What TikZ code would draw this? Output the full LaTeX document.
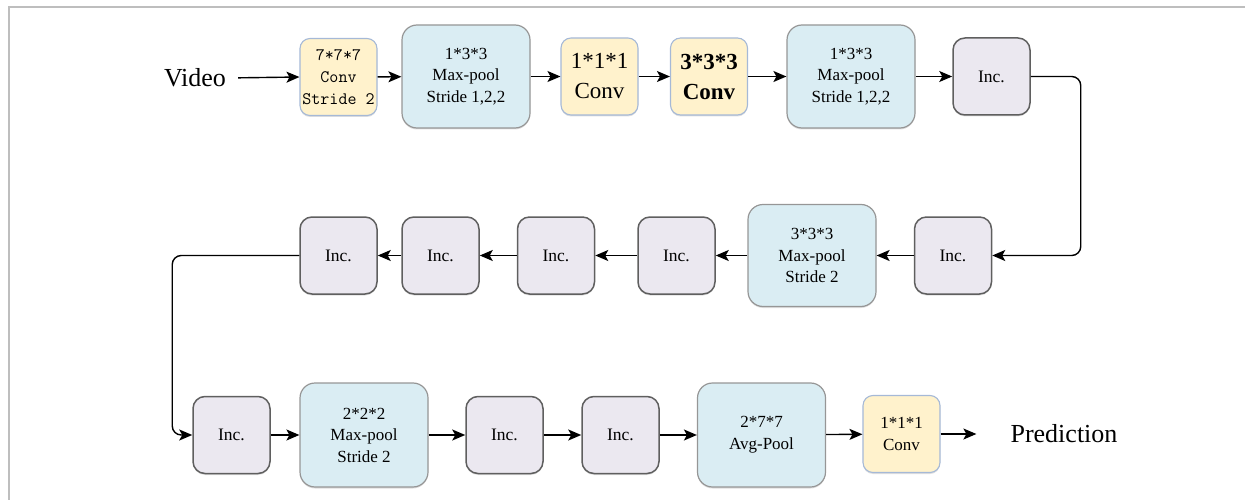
\documentclass[tikz,border=0pt]{standalone}
\usepackage{fontspec}
\setmainfont{Liberation Serif}
\usetikzlibrary{arrows.meta,shadows}

\definecolor{convfill}{RGB}{255,242,204}
\definecolor{convedge}{RGB}{165,185,215}
\definecolor{poolfill}{RGB}{218,237,243}
\definecolor{pooledge}{RGB}{150,150,150}
\definecolor{incfill}{RGB}{235,232,240}
\definecolor{incedge}{RGB}{95,95,95}
\definecolor{frameedge}{RGB}{190,190,190}

\tikzset{
  blk/.style={rectangle, inner sep=0pt, align=center, text=black,
    drop shadow={shadow xshift=0pt, shadow yshift=-1.5pt, opacity=0.25}},
  convbox/.style={blk, fill=convfill, draw=convedge, line width=1.1pt,
    rounded corners=10pt, minimum width=77pt, minimum height=77pt},
  poolbox/.style={blk, fill=poolfill, draw=pooledge, line width=1.2pt,
    rounded corners=15pt, minimum width=128pt, minimum height=103pt,
    font=\fontsize{17}{21.5}\selectfont},
  incbox/.style={blk, fill=incfill, draw=incedge, line width=1.5pt,
    rounded corners=12pt, minimum width=77pt, minimum height=77pt,
    font=\fontsize{17.5}{21}\selectfont},
  label/.style={inner sep=0pt, font=\fontsize{26}{30}\selectfont},
  flow/.style={line width=1.4pt, -{Stealth[length=13pt,width=11pt,inset=3pt]}},
}

\begin{document}
\begin{tikzpicture}[x=1pt,y=-1pt]
\useasboundingbox (0,0) rectangle (1245,500);
\draw[frameedge, line width=1.5pt] (9,500) -- (9,7) -- (1245,7);

% first row: stem of the network
\node[label] (video) at (195,78) {Video};
\node[convbox, font=\ttfamily\fontsize{17.5}{22}\selectfont] (c7) at (338.5,77) {7*7*7\\Conv\\Stride 2};
\node[poolbox] (p1) at (466,76.5) {1*3*3\\Max-pool\\Stride 1,2,2};
\node[convbox, font=\fontsize{23}{30}\selectfont] (c1) at (599.5,76.5) {1*1*1\\Conv};
\node[convbox, font=\bfseries\fontsize{23}{30}\selectfont] (c3) at (709,76.5) {3*3*3\\Conv};
\node[poolbox] (p2) at (851,76.5) {1*3*3\\Max-pool\\Stride 1,2,2};
\node[incbox] (i1) at (991.5,76.5) {Inc.};

% second row, running right to left
\node[incbox] (i2) at (953,255.5) {Inc.};
\node[poolbox, minimum height=102pt] (p3) at (812,255.5) {3*3*3\\Max-pool\\Stride 2};
\node[incbox] (i3) at (676.5,255.5) {Inc.};
\node[incbox] (i4) at (556,255.5) {Inc.};
\node[incbox] (i5) at (440.5,255.5) {Inc.};
\node[incbox] (i6) at (338.5,255.5) {Inc.};

% third row: head of the network
\node[incbox] (i7) at (231.5,435) {Inc.};
\node[poolbox, minimum height=104pt] (p4) at (364,435) {2*2*2\\Max-pool\\Stride 2};
\node[incbox] (i8) at (504.5,435) {Inc.};
\node[incbox] (i9) at (620.5,435) {Inc.};
\node[poolbox, minimum height=104pt, font=\fontsize{17}{22}\selectfont] (p5) at (761.5,435) {2*7*7\\Avg-Pool};
\node[convbox, font=\fontsize{17}{22}\selectfont] (cf) at (901.5,434) {1*1*1\\Conv};
\node[label] (pred) at (1064,434) {Prediction};

% connectors
\draw[flow, shorten <=12pt] (video.east) -- (c7.west);
\draw[flow] (c7) -- (p1);
\draw[flow] (p1) -- (c1);
\draw[flow] (c1) -- (c3);
\draw[flow] (c3) -- (p2);
\draw[flow] (p2) -- (i1);
\draw[flow, rounded corners=9pt] (i1.east) -- ++(50,0) |- (i2.east);
\draw[flow] (i2) -- (p3);
\draw[flow] (p3) -- (i3);
\draw[flow] (i3) -- (i4);
\draw[flow] (i4) -- (i5);
\draw[flow] (i5) -- (i6);
\draw[flow, rounded corners=9pt] (i6.west) -- ++(-127,0) |- (i7.west);
\draw[flow] (i7) -- (p4);
\draw[flow] (p4) -- (i8);
\draw[flow] (i8) -- (i9);
\draw[flow] (i9) -- (p5);
\draw[flow] (p5) -- (cf);
\draw[flow, shorten >=34pt] (cf.east) -- (pred.west);
\end{tikzpicture}
\end{document}
